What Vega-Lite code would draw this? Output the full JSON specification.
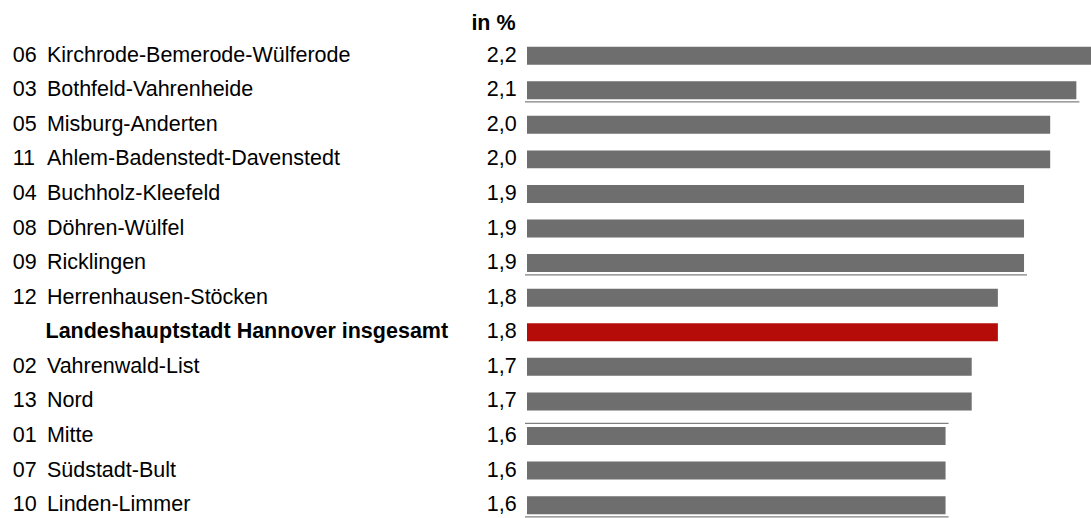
{
  "$schema": "https://vega.github.io/schema/vega-lite/v6.json",
  "autosize": {"type": "none"},
  "padding": {"left": 527, "top": 43.2, "right": 0, "bottom": 0.4},
  "width": 564,
  "height": 474.4,
  "title": {
    "text": "in %",
    "anchor": "start",
    "align": "right",
    "dx": -11.4,
    "frame": "group",
    "baseline": "alphabetic",
    "offset": -8.2,
    "font": "Liberation Sans",
    "fontSize": 21.5,
    "fontWeight": "bold",
    "color": "#000000"
  },
  "data": {
    "values": [
      {"bezirk": "06 Kirchrode-Bemerode-Wülferode", "wert": 2.2},
      {"bezirk": "03 Bothfeld-Vahrenheide", "wert": 2.1},
      {"bezirk": "05 Misburg-Anderten", "wert": 2.0},
      {"bezirk": "11 Ahlem-Badenstedt-Davenstedt", "wert": 2.0},
      {"bezirk": "04 Buchholz-Kleefeld", "wert": 1.9},
      {"bezirk": "08 Döhren-Wülfel", "wert": 1.9},
      {"bezirk": "09 Ricklingen", "wert": 1.9},
      {"bezirk": "12 Herrenhausen-Stöcken", "wert": 1.8},
      {"bezirk": "Landeshauptstadt Hannover insgesamt", "wert": 1.8},
      {"bezirk": "02 Vahrenwald-List", "wert": 1.7},
      {"bezirk": "13 Nord", "wert": 1.7},
      {"bezirk": "01 Mitte", "wert": 1.6},
      {"bezirk": "07 Südstadt-Bult", "wert": 1.6},
      {"bezirk": "10 Linden-Limmer", "wert": 1.6}
    ]
  },
  "encoding": {
    "y": {
      "field": "bezirk",
      "type": "nominal",
      "sort": null,
      "scale": {"paddingInner": 0.48, "paddingOuter": 0.1},
      "axis": {
        "title": null,
        "domain": false,
        "ticks": false,
        "tickSize": 0,
        "grid": false,
        "labelAlign": "left",
        "labelBaseline": "middle",
        "labelFont": "Liberation Sans",
        "labelFontSize": 21.5,
        "labelColor": "#000000",
        "labelLimit": 0,
        "labelPadding": {"condition": {"test": "datum.value == 'Landeshauptstadt Hannover insgesamt'", "value": 482}, "value": 514.8},
        "labelFontWeight": {"condition": {"test": "datum.value == 'Landeshauptstadt Hannover insgesamt'", "value": "bold"}, "value": "normal"},
        "labelExpr": "test(regexp('^11 '), datum.value) ? replace(datum.value, ' ', '\u00a0\u2009\u200a') : test(regexp('^[0-9]'), datum.value) ? replace(datum.value, ' ', '\u00a0\u2009') : datum.value"
      }
    }
  },
  "layer": [
    {
      "mark": {"type": "bar", "clip": true},
      "encoding": {
        "x": {"field": "wert", "type": "quantitative", "scale": {"domain": [0, 2.156], "nice": false, "zero": true}, "axis": null},
        "color": {
          "condition": {"test": "datum.bezirk == 'Landeshauptstadt Hannover insgesamt'", "value": "#b50c09"},
          "value": "#6e6e6e"
        }
      }
    },
    {
      "mark": {"type": "text", "align": "right", "baseline": "middle", "dx": -10.3, "font": "Liberation Sans", "fontSize": 21.5, "color": "#000000"},
      "encoding": {
        "x": {"datum": 0, "type": "quantitative"},
        "text": {"field": "wert", "type": "quantitative", "format": ".1f"}
      }
    },
    {
      "transform": [{"filter": {"field": "bezirk", "oneOf": ["03 Bothfeld-Vahrenheide", "09 Ricklingen", "10 Linden-Limmer"]}}],
      "mark": {"type": "rule", "color": "#808080", "strokeWidth": 1.2, "yOffset": 11.7, "xOffset": 3, "x2Offset": -2},
      "encoding": {
        "x": {"field": "wert", "type": "quantitative"},
        "x2": {"datum": 0}
      }
    },
    {
      "transform": [{"filter": {"field": "bezirk", "equal": "01 Mitte"}}],
      "mark": {"type": "rule", "color": "#808080", "strokeWidth": 1.2, "yOffset": -12.7, "xOffset": 3, "x2Offset": -2},
      "encoding": {
        "x": {"field": "wert", "type": "quantitative"},
        "x2": {"datum": 0}
      }
    }
  ],
  "config": {
    "view": {"stroke": null},
    "locale": {"number": {"decimal": ",", "thousands": ".", "grouping": [3], "currency": ["", "\u00a0€"]}}
  }
}
